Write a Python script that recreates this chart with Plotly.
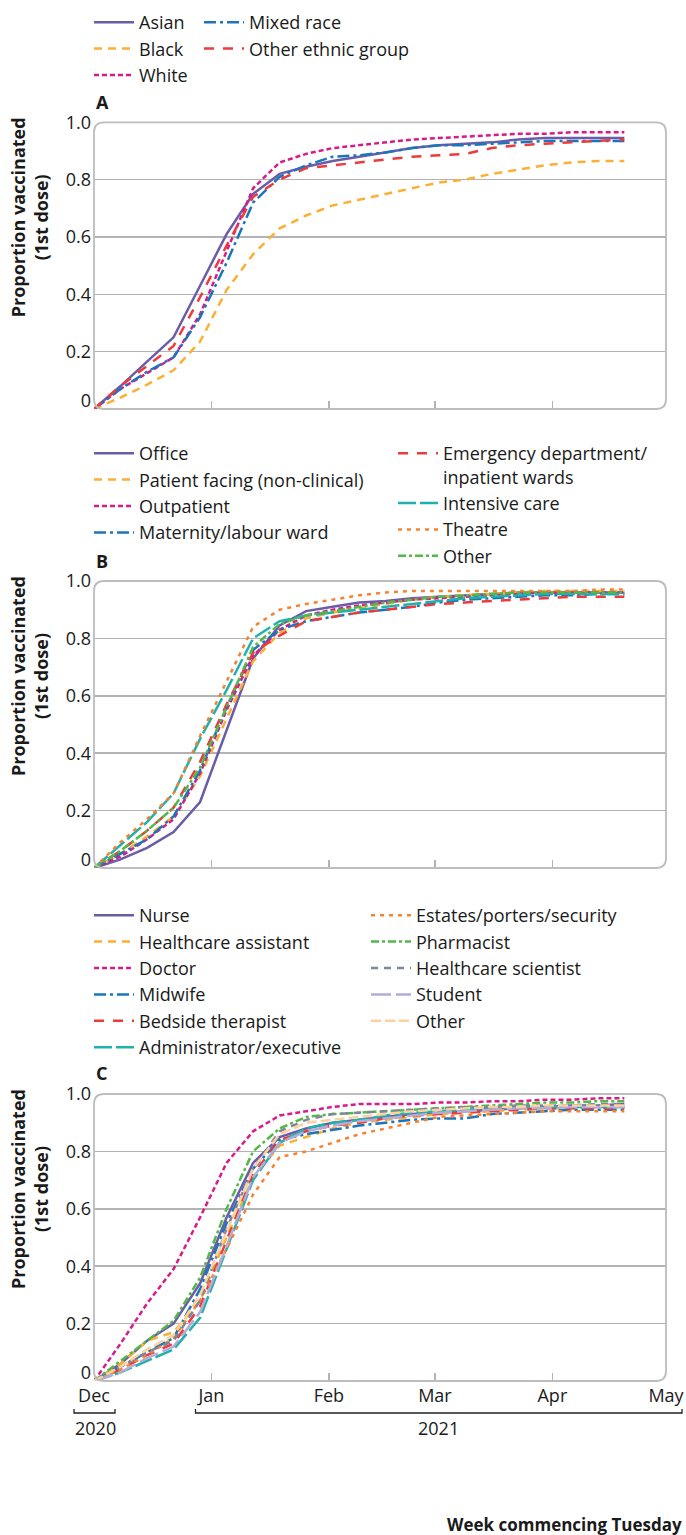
import plotly.graph_objects as go

W, H = 686, 1535

weeks = ["2020-12-01", "2020-12-08", "2020-12-15", "2020-12-22", "2020-12-29",
         "2021-01-05", "2021-01-12", "2021-01-19", "2021-01-26", "2021-02-02",
         "2021-02-09", "2021-02-16", "2021-02-23", "2021-03-02", "2021-03-09",
         "2021-03-16", "2021-03-23", "2021-03-30", "2021-04-06", "2021-04-13",
         "2021-04-20"]

month_ticks = ["2020-12-01", "2021-01-01", "2021-02-01", "2021-03-01", "2021-04-01", "2021-05-01"]
month_labels = ["Dec", "Jan", "Feb", "Mar", "Apr", "May"]
y_ticks = [0.03, 0.2, 0.4, 0.6, 0.8, 1.0]
y_labels = ["0", "0.2", "0.4", "0.6", "0.8", "1.0"]

# Panel A: ethnicity
asian = [0, 0.08, 0.165, 0.25, 0.43, 0.61, 0.75, 0.82, 0.845, 0.865, 0.88, 0.895, 0.91, 0.92, 0.925, 0.93, 0.94, 0.945, 0.945, 0.945, 0.945]
mixed = [0, 0.07, 0.13, 0.18, 0.32, 0.51, 0.72, 0.81, 0.85, 0.88, 0.885, 0.895, 0.91, 0.92, 0.92, 0.925, 0.93, 0.935, 0.935, 0.935, 0.935]
black = [0, 0.04, 0.085, 0.135, 0.235, 0.415, 0.54, 0.63, 0.675, 0.71, 0.73, 0.75, 0.77, 0.79, 0.80, 0.82, 0.835, 0.85, 0.86, 0.865, 0.865]
other_eth = [0, 0.08, 0.15, 0.22, 0.39, 0.57, 0.74, 0.80, 0.84, 0.85, 0.86, 0.87, 0.88, 0.885, 0.89, 0.91, 0.92, 0.925, 0.93, 0.935, 0.94]
white = [0, 0.07, 0.125, 0.18, 0.33, 0.55, 0.77, 0.86, 0.89, 0.91, 0.92, 0.93, 0.94, 0.945, 0.95, 0.955, 0.96, 0.96, 0.965, 0.965, 0.965]

# Panel B: work area
office = [0, 0.03, 0.07, 0.125, 0.23, 0.48, 0.73, 0.845, 0.895, 0.91, 0.925, 0.93, 0.94, 0.945, 0.95, 0.955, 0.96, 0.96, 0.96, 0.96, 0.96]
patient_facing = [0, 0.05, 0.11, 0.18, 0.32, 0.52, 0.72, 0.82, 0.87, 0.89, 0.905, 0.92, 0.935, 0.945, 0.95, 0.955, 0.96, 0.965, 0.965, 0.965, 0.965]
outpatient = [0, 0.04, 0.10, 0.17, 0.33, 0.55, 0.74, 0.83, 0.88, 0.90, 0.915, 0.925, 0.935, 0.94, 0.945, 0.95, 0.955, 0.96, 0.96, 0.96, 0.96]
maternity = [0, 0.05, 0.10, 0.18, 0.34, 0.56, 0.76, 0.83, 0.86, 0.875, 0.89, 0.90, 0.91, 0.925, 0.935, 0.94, 0.945, 0.95, 0.95, 0.955, 0.955]
emergency = [0, 0.06, 0.13, 0.21, 0.37, 0.57, 0.75, 0.81, 0.86, 0.875, 0.89, 0.90, 0.91, 0.92, 0.925, 0.93, 0.935, 0.94, 0.945, 0.945, 0.945]
intensive = [0, 0.08, 0.16, 0.26, 0.45, 0.62, 0.80, 0.86, 0.88, 0.89, 0.90, 0.91, 0.92, 0.93, 0.94, 0.945, 0.95, 0.955, 0.955, 0.955, 0.955]
theatre = [0, 0.09, 0.17, 0.26, 0.46, 0.65, 0.84, 0.90, 0.92, 0.935, 0.95, 0.96, 0.965, 0.965, 0.965, 0.965, 0.965, 0.965, 0.965, 0.97, 0.97]
other_area = [0, 0.06, 0.13, 0.21, 0.35, 0.56, 0.77, 0.85, 0.88, 0.895, 0.91, 0.925, 0.935, 0.945, 0.95, 0.955, 0.96, 0.96, 0.96, 0.96, 0.96]

# Panel C: staff role
nurse = [0, 0.06, 0.14, 0.20, 0.34, 0.57, 0.76, 0.85, 0.88, 0.90, 0.91, 0.92, 0.93, 0.935, 0.94, 0.945, 0.95, 0.955, 0.96, 0.96, 0.965]
hca = [0, 0.06, 0.14, 0.17, 0.28, 0.50, 0.71, 0.82, 0.85, 0.88, 0.90, 0.91, 0.92, 0.93, 0.935, 0.94, 0.945, 0.95, 0.95, 0.955, 0.955]
doctor = [0, 0.13, 0.27, 0.39, 0.57, 0.76, 0.87, 0.925, 0.94, 0.955, 0.965, 0.965, 0.965, 0.97, 0.97, 0.975, 0.975, 0.98, 0.98, 0.985, 0.985]
midwife = [0, 0.05, 0.10, 0.15, 0.32, 0.55, 0.74, 0.84, 0.86, 0.875, 0.89, 0.90, 0.91, 0.915, 0.915, 0.93, 0.935, 0.94, 0.945, 0.945, 0.945]
bedside = [0, 0.04, 0.09, 0.13, 0.26, 0.49, 0.72, 0.84, 0.87, 0.89, 0.90, 0.915, 0.925, 0.93, 0.935, 0.94, 0.945, 0.95, 0.95, 0.95, 0.95]
admin = [0, 0.03, 0.07, 0.11, 0.22, 0.46, 0.70, 0.83, 0.88, 0.90, 0.91, 0.925, 0.935, 0.94, 0.945, 0.95, 0.955, 0.955, 0.955, 0.955, 0.955]
estates = [0, 0.04, 0.09, 0.15, 0.28, 0.46, 0.65, 0.78, 0.80, 0.83, 0.86, 0.88, 0.90, 0.92, 0.925, 0.93, 0.935, 0.94, 0.94, 0.94, 0.94]
pharmacist = [0, 0.07, 0.14, 0.21, 0.36, 0.60, 0.80, 0.88, 0.92, 0.93, 0.935, 0.94, 0.945, 0.95, 0.955, 0.96, 0.965, 0.97, 0.97, 0.975, 0.975]
scientist = [0, 0.05, 0.10, 0.14, 0.28, 0.53, 0.74, 0.87, 0.91, 0.93, 0.935, 0.94, 0.945, 0.95, 0.955, 0.955, 0.96, 0.96, 0.96, 0.965, 0.965]
student = [0, 0.03, 0.08, 0.12, 0.24, 0.47, 0.71, 0.83, 0.87, 0.89, 0.905, 0.915, 0.925, 0.935, 0.94, 0.945, 0.95, 0.95, 0.955, 0.955, 0.955]
other_role = [0, 0.05, 0.11, 0.16, 0.30, 0.52, 0.74, 0.86, 0.90, 0.91, 0.92, 0.93, 0.94, 0.945, 0.95, 0.955, 0.955, 0.96, 0.96, 0.96, 0.96]

PURPLE = "#6b5ca8"
ORANGE = "#fbb034"
MAGENTA = "#d81b8c"
BLUE = "#1b75bc"
RED = "#ee3a3b"
TEAL = "#1fb1ab"
ORANGE2 = "#f58233"
GREEN = "#52b848"
GREY = "#7e8799"
LPURPLE = "#b5abd8"
LORANGE = "#fdd19c"

S_SOLID = "solid"
S_DASH = "8px,6px"
S_DOT = "5px,3px"
S_DASHDOT = "12px,4px,3px,4px"
S_RED = "10px,9px"
S_LONG = "18px,4px"
S_DOT2 = "4px,5px"
S_GDASHDOT = "8px,3px,3px,3px"
S_GREY = "7px,6px"
S_STUDENT = "20px,5px"
S_LOR = "10px,4px"

FONT = "Open Sans"
LW = 2.5

# (name, values, color, dash, legend)
panelA = [
    ("Asian", asian, PURPLE, S_SOLID, "legend"),
    ("Black", black, ORANGE, S_DASH, "legend"),
    ("White", white, MAGENTA, S_DOT, "legend"),
    ("Mixed race", mixed, BLUE, S_DASHDOT, "legend2"),
    ("Other ethnic group", other_eth, RED, S_RED, "legend2"),
]
panelB = [
    ("Office", office, PURPLE, S_SOLID, "legend3"),
    ("Patient facing (non-clinical)", patient_facing, ORANGE, S_DASH, "legend3"),
    ("Outpatient", outpatient, MAGENTA, S_DOT, "legend3"),
    ("Maternity/labour ward", maternity, BLUE, S_DASHDOT, "legend3"),
    ("Emergency department/<br>inpatient wards", emergency, RED, S_RED, "legend4"),
    ("Intensive care", intensive, TEAL, S_LONG, "legend4"),
    ("Theatre", theatre, ORANGE2, S_DOT2, "legend4"),
    ("Other", other_area, GREEN, S_GDASHDOT, "legend4"),
]
panelC = [
    ("Nurse", nurse, PURPLE, S_SOLID, "legend5"),
    ("Healthcare assistant", hca, ORANGE, S_DASH, "legend5"),
    ("Doctor", doctor, MAGENTA, S_DOT, "legend5"),
    ("Midwife", midwife, BLUE, S_DASHDOT, "legend5"),
    ("Bedside therapist", bedside, RED, S_RED, "legend5"),
    ("Administrator/executive", admin, TEAL, S_LONG, "legend5"),
    ("Estates/porters/security", estates, ORANGE2, S_DOT2, "legend6"),
    ("Pharmacist", pharmacist, GREEN, S_GDASHDOT, "legend6"),
    ("Healthcare scientist", scientist, GREY, S_GREY, "legend6"),
    ("Student", student, LPURPLE, S_STUDENT, "legend6"),
    ("Other", other_role, LORANGE, S_LOR, "legend6"),
]

fig = go.Figure()

for axis_idx, panel in ((1, panelA), (2, panelB), (3, panelC)):
    xa = "x" if axis_idx == 1 else f"x{axis_idx}"
    ya = "y" if axis_idx == 1 else f"y{axis_idx}"
    for rank, (name, vals, color, dash, leg) in enumerate(panel):
        fig.add_trace(go.Scatter(
            x=weeks, y=vals, name=name, mode="lines",
            line=dict(color=color, width=LW, dash=dash),
            xaxis=xa, yaxis=ya, legend=leg, legendrank=rank + 1,
        ))

# pixel -> paper helpers
def px(x):
    return x / W

def py(y):
    return 1 - y / H

X0, X1 = 94, 666
panels_px = [(122.3, 409), (581, 868), (1094, 1381)]

GRID = "#b3b3b3"
BORDER = "#bdbdbd"

layout = dict(
    width=W, height=H, autosize=False,
    margin=dict(l=0, r=0, t=0, b=0, pad=0, autoexpand=False),
    paper_bgcolor="white", plot_bgcolor="rgba(0,0,0,0)",
    font=dict(family=FONT, size=18, color="#1a1a1a"),
)

for i, (top, bot) in enumerate(panels_px, start=1):
    xk = "xaxis" if i == 1 else f"xaxis{i}"
    yk = "yaxis" if i == 1 else f"yaxis{i}"
    yanchor = "y" if i == 1 else f"y{i}"
    xanchor = "x" if i == 1 else f"x{i}"
    layout[xk] = dict(
        domain=[px(X0), px(X1)], anchor=yanchor, type="date",
        range=["2020-12-01", "2021-05-01"],
        tickmode="array", tickvals=month_ticks, ticktext=month_labels,
        ticks="inside", ticklen=8, tickwidth=1.5, tickcolor=GRID,
        showticklabels=(i == 3), showgrid=False, zeroline=False, showline=False,
        tickfont=dict(size=18, color="#1a1a1a"), automargin=False,
        ticklabelstandoff=2,
    )
    layout[yk] = dict(
        domain=[py(bot), py(top)], anchor=xanchor,
        range=[0, 1], tickmode="array", tickvals=y_ticks, ticktext=y_labels,
        ticks="", showgrid=False, zeroline=False, showline=False,
        tickfont=dict(size=18, color="#1a1a1a"), automargin=False,
        ticklabelstandoff=2,
        minor=dict(tickmode="array", tickvals=[0.2, 0.4, 0.6, 0.8], showgrid=True,
                   gridcolor=GRID, gridwidth=1.5, ticks=""),
    )

fig.update_layout(**layout)

# rounded plot borders
shapes = []
r = 10
for top, bot in panels_px:
    x0, x1 = px(X0), px(X1)
    y0, y1 = py(bot), py(top)
    rx, ry = r / W, r / H
    path = (f"M {x0+rx},{y1} L {x1-rx},{y1} Q {x1},{y1} {x1},{y1-ry} "
            f"L {x1},{y0+ry} Q {x1},{y0} {x1-rx},{y0} L {x0+rx},{y0} "
            f"Q {x0},{y0} {x0},{y0+ry} L {x0},{y1-ry} Q {x0},{y1} {x0+rx},{y1} Z")
    shapes.append(dict(type="path", path=path, xref="paper", yref="paper",
                       line=dict(color=BORDER, width=1.8), layer="above"))

# year brackets
def bracket(xa, xb, y, h=4):
    return dict(type="path", xref="paper", yref="paper",
                path=f"M {px(xa)},{py(y-h)} L {px(xa)},{py(y)} L {px(xb)},{py(y)} L {px(xb)},{py(y-h)}",
                line=dict(color="#222222", width=1.3))

shapes.append(bracket(74, 115, 1413))
shapes.append(bracket(195.5, 682, 1413))
fig.update_layout(shapes=shapes)

ann = []
for letter, y in (("A", 102), ("B", 561), ("C", 1073)):
    ann.append(dict(text=f"<b>{letter}</b>", x=px(X0), y=py(y), xref="paper", yref="paper",
                    xanchor="left", yanchor="middle", showarrow=False,
                    font=dict(size=18, color="#1a1a1a")))
for top, bot in panels_px:
    ann.append(dict(text="<b>Proportion vaccinated<br>(1st dose)</b>",
                    x=px(29), y=py(top - 7), xref="paper", yref="paper",
                    xanchor="center", yanchor="top", textangle=-90, showarrow=False,
                    font=dict(size=18, color="#1a1a1a")))
ann.append(dict(text="2020", x=px(95), y=py(1428), xref="paper", yref="paper",
                xanchor="center", yanchor="middle", showarrow=False, font=dict(size=18)))
ann.append(dict(text="2021", x=px(438), y=py(1428), xref="paper", yref="paper",
                xanchor="center", yanchor="middle", showarrow=False, font=dict(size=18)))
ann.append(dict(text="<b>Week commencing Tuesday</b>", x=px(684), y=py(1524), xref="paper",
                yref="paper", xanchor="right", yanchor="middle", showarrow=False,
                font=dict(size=17)))
fig.update_layout(annotations=ann)

def leg(x, ytop):
    return dict(x=px(x), y=py(ytop), xanchor="left", yanchor="top",
                bgcolor="rgba(0,0,0,0)", borderwidth=0, itemwidth=40,
                font=dict(family=FONT, size=18, color="#1a1a1a"),
                tracegroupgap=0, valign="top", itemclick=False, itemdoubleclick=False)

fig.update_layout(
    showlegend=True,
    legend=leg(89, 4),
    legend2=leg(199, 4),
    legend3=leg(89, 435),
    legend4=leg(393, 435),
    legend5=leg(89, 897),
    legend6=leg(366, 897),
)

fig.write_html("out.html",
               config={"displayModeBar": False, "staticPlot": True},
               post_script="document.body.style.margin='0';document.body.style.padding='0';")
